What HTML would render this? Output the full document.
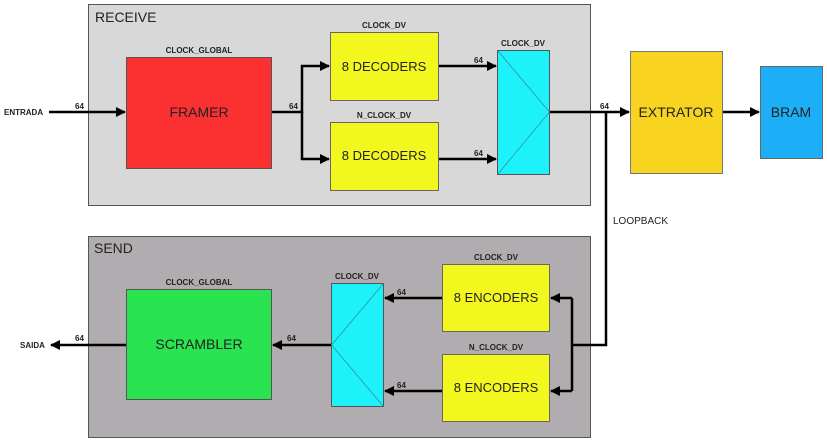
<!DOCTYPE html>
<html><head><meta charset="utf-8"><style>html,body{margin:0;padding:0;background:#fff}svg{display:block}</style></head><body>
<svg width="827" height="442" viewBox="0 0 827 442" xmlns="http://www.w3.org/2000/svg" font-family="Liberation Sans, sans-serif">
<defs><marker id="a" markerWidth="10" markerHeight="10" refX="9" refY="5" orient="auto" markerUnits="userSpaceOnUse"><path d="M0,0 L10,5 L0,10 Z" fill="#000"/></marker></defs>
<!-- RECEIVE -->
<rect x="88.5" y="4.5" width="502" height="201" fill="#d8d8d8" stroke="#555" stroke-width="1"/>
<text x="95" y="22" font-size="14" fill="#222">RECEIVE</text>
<rect x="126.5" y="57.5" width="145" height="111" fill="#fb3031" stroke="#555"/>
<text x="199" y="117" font-size="14" text-anchor="middle" fill="#222">FRAMER</text>
<text x="199" y="53" font-size="8" font-weight="bold" text-anchor="middle" fill="#222">CLOCK_GLOBAL</text>
<rect x="330.5" y="32.5" width="108" height="68" fill="#f2f81e" stroke="#666"/>
<text x="384" y="71" font-size="13" text-anchor="middle" fill="#222">8 DECODERS</text>
<text x="384" y="28" font-size="8" font-weight="bold" text-anchor="middle" fill="#222">CLOCK_DV</text>
<rect x="330.5" y="122.5" width="108" height="68" fill="#f2f81e" stroke="#666"/>
<text x="384" y="160" font-size="13" text-anchor="middle" fill="#222">8 DECODERS</text>
<text x="384" y="118" font-size="8" font-weight="bold" text-anchor="middle" fill="#222">N_CLOCK_DV</text>
<rect x="497.5" y="50.5" width="52" height="124" fill="#1df2fb" stroke="#555"/>
<path d="M497.5,50.5 L549.5,112 L497.5,174.5" fill="none" stroke="#2a8a90" stroke-width="0.7"/>
<text x="523" y="46" font-size="8" font-weight="bold" text-anchor="middle" fill="#222">CLOCK_DV</text>
<rect x="630.5" y="51.5" width="92" height="122" fill="#f8d31f" stroke="#777"/>
<text x="676" y="117" font-size="14" text-anchor="middle" fill="#222">EXTRATOR</text>
<rect x="760.5" y="66.5" width="62" height="92" fill="#1caef6" stroke="#666"/>
<text x="791" y="117" font-size="14" text-anchor="middle" fill="#222">BRAM</text>
<!-- SEND -->
<rect x="88.5" y="236.5" width="502" height="201" fill="#b1acaf" stroke="#555"/>
<text x="94" y="253" font-size="14" fill="#222">SEND</text>
<rect x="126.5" y="289.5" width="145" height="110" fill="#29e350" stroke="#555"/>
<text x="199" y="349" font-size="14" text-anchor="middle" fill="#222">SCRAMBLER</text>
<text x="199" y="285" font-size="8" font-weight="bold" text-anchor="middle" fill="#222">CLOCK_GLOBAL</text>
<rect x="331.5" y="283.5" width="52" height="123" fill="#1df2fb" stroke="#555"/>
<path d="M383.5,283.5 L331.5,345 L383.5,406.5" fill="none" stroke="#2a8a90" stroke-width="0.7"/>
<text x="357" y="279" font-size="8" font-weight="bold" text-anchor="middle" fill="#222">CLOCK_DV</text>
<rect x="442.5" y="264.5" width="107" height="67" fill="#f2f81e" stroke="#666"/>
<text x="496" y="302" font-size="13" text-anchor="middle" fill="#222">8 ENCODERS</text>
<text x="496" y="260" font-size="8" font-weight="bold" text-anchor="middle" fill="#222">CLOCK_DV</text>
<rect x="442.5" y="354.5" width="107" height="67" fill="#f2f81e" stroke="#666"/>
<text x="496" y="392" font-size="13" text-anchor="middle" fill="#222">8 ENCODERS</text>
<text x="496" y="350" font-size="8" font-weight="bold" text-anchor="middle" fill="#222">N_CLOCK_DV</text>
<!-- connectors -->
<g stroke="#000" stroke-width="2.5" fill="none">
<line x1="49" y1="112" x2="125" y2="112" marker-end="url(#a)"/>
<polyline points="272,112 302,112 302,66 329,66" marker-end="url(#a)"/>
<polyline points="302,112 302,159 329,159" marker-end="url(#a)"/>
<line x1="439" y1="66" x2="496" y2="66" marker-end="url(#a)"/>
<line x1="439" y1="159" x2="496" y2="159" marker-end="url(#a)"/>
<line x1="550" y1="112" x2="629" y2="112" marker-end="url(#a)"/>
<line x1="723" y1="112" x2="759" y2="112" marker-end="url(#a)"/>
<polyline points="606,112 606,345 572,345"/>
<polyline points="572,298 572,391"/>
<line x1="572" y1="298" x2="551" y2="298" marker-end="url(#a)"/>
<line x1="572" y1="391" x2="551" y2="391" marker-end="url(#a)"/>
<line x1="442" y1="298" x2="385" y2="298" marker-end="url(#a)"/>
<line x1="442" y1="391" x2="385" y2="391" marker-end="url(#a)"/>
<line x1="331" y1="345" x2="273" y2="345" marker-end="url(#a)"/>
<line x1="126" y1="345" x2="51" y2="345" marker-end="url(#a)"/>
</g>
<g font-size="8" font-weight="bold" fill="#222">
<text x="4" y="115">ENTRADA</text>
<text x="75" y="109">64</text>
<text x="289" y="109">64</text>
<text x="474" y="63">64</text>
<text x="474" y="156">64</text>
<text x="600" y="109">64</text>
<text x="20" y="348">SAIDA</text>
<text x="75" y="341">64</text>
<text x="287" y="341">64</text>
<text x="397" y="295">64</text>
<text x="397" y="388">64</text>
</g>
<text x="613" y="224" font-size="10" fill="#222">LOOPBACK</text>
</svg>
</body></html>
